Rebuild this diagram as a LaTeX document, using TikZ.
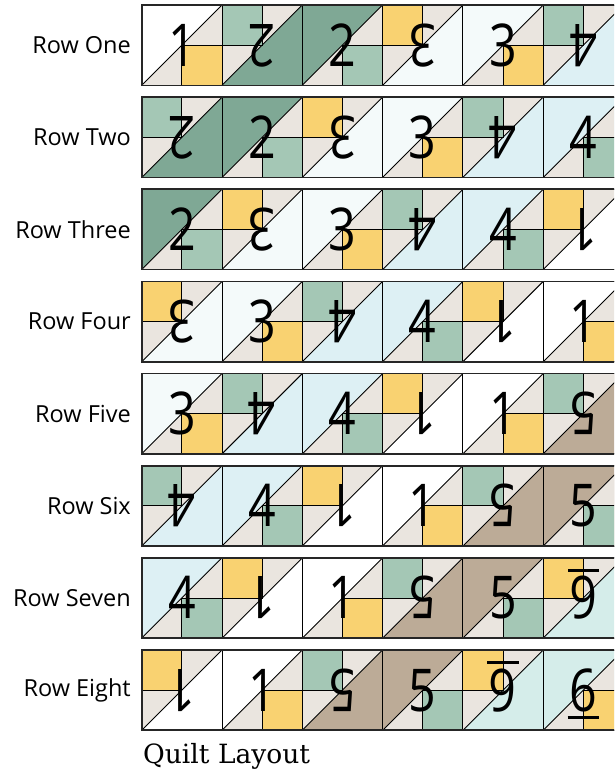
\documentclass[tikz,border=0pt]{standalone}
\usepackage{fontspec}
\setmainfont{DejaVu Serif}
\newfontfamily\labelfont{Open Sans}
\newfontfamily\digitfont[FakeStretch=0.82]{Open Sans}
\definecolor{qWhite}{HTML}{FFFFFF}
\definecolor{qBeige}{HTML}{EAE5DF}
\definecolor{qYellow}{HTML}{F9D271}
\definecolor{qGreenLt}{HTML}{A4C7B5}
\definecolor{qGreenDk}{HTML}{7FA895}
\definecolor{qIce}{HTML}{F4FAFA}
\definecolor{qSky}{HTML}{DDF0F4}
\definecolor{qTaupe}{HTML}{BCAB97}
\definecolor{qTeal}{HTML}{D5EDEA}
\usepackage{tikz}
\usetikzlibrary{positioning}

\newcommand{\qh}{40.15}
% a six with a bar under it, so it reads right way up
\newcommand{\ulsix}{\setbox0\hbox{6}%
  \rlap{\kern-2pt\vrule width\dimexpr\wd0+4pt\relax height -5pt depth 8pt}\box0}

\tikzset{
  pics/qblock/.style n args={4}{code={
    \begin{scope}[rotate=#4]
      \fill[#1] (-\qh,-\qh) rectangle (\qh,\qh);
      \fill[qBeige] (0,0) -- (\qh,-\qh) -- (\qh,0) -- cycle;
      \fill[qBeige] (-\qh,\qh) -- (0,0) -- (0,\qh) -- cycle;
      \filldraw[fill=#2, seam] (0,0) rectangle (\qh,\qh);
      \draw[seam] (-\qh,\qh) -- (\qh,-\qh);
      \draw[seam] (-\qh,-\qh) rectangle (\qh,\qh);
    \end{scope}
    \node[digit, rotate=#4] (-dig) at (0,0) {#3};
  }}
}

\begin{document}
\begin{tikzpicture}[
    x=1pt, y=-1pt,
    seam/.style={draw=black, line width=0.9pt},
    rowframe/.style={draw=black!85, line width=1.6pt},
    digit/.style={font=\digitfont\fontsize{59}{59}\selectfont, inner sep=0pt,
                  text height=42pt, text depth=0pt},
    rowlabel/.style={font=\labelfont\fontsize{23.5}{23.5}\selectfont, anchor=east, inner sep=0pt}
  ]
    \clip (0,0) rectangle (614,772);
    \fill[white] (0,0) rectangle (614,772);

    % rows of blocks, each row shifted one block along the sequence
    \foreach \lbl [count=\r from 0] in {One,Two,Three,Four,Five,Six,Seven,Eight} {
      \node[rowlabel] (lbl\r) at (131, {5+92.14*\r+40.15}) {Row \lbl};
      \foreach \main/\acc/\dig/\ang [count=\i from 0] in {
          qWhite/qYellow/1/0, qGreenDk/qGreenLt/2/180, qGreenDk/qGreenLt/2/0,
          qIce/qYellow/3/180, qIce/qYellow/3/0, qSky/qGreenLt/4/180,
          qSky/qGreenLt/4/0, qWhite/qYellow/1/180, qWhite/qYellow/1/0,
          qTaupe/qGreenLt/5/180, qTaupe/qGreenLt/5/0,
          qTeal/qYellow/\ulsix/180, qTeal/qYellow/\ulsix/0} {
        \pgfmathtruncatemacro\c{\i-\r}
        \ifnum\c>-1 \ifnum\c<6
          \pic (b\r\c) at ({141.7+80.3*\c+40.15}, {5+92.14*\r+40.15})
            {qblock={\main}{\acc}{\dig}{\ang}};
        \fi\fi
      }
      \draw[rowframe] (141.7, {5+92.14*\r}) rectangle ++(481.8, 80.3);
    }

    % caption
    \node[font=\fontsize{26.5}{26.5}\selectfont, anchor=base west, inner sep=0pt]
      (title) at (143, 763) {Quilt Layout};
\end{tikzpicture}
\end{document}
